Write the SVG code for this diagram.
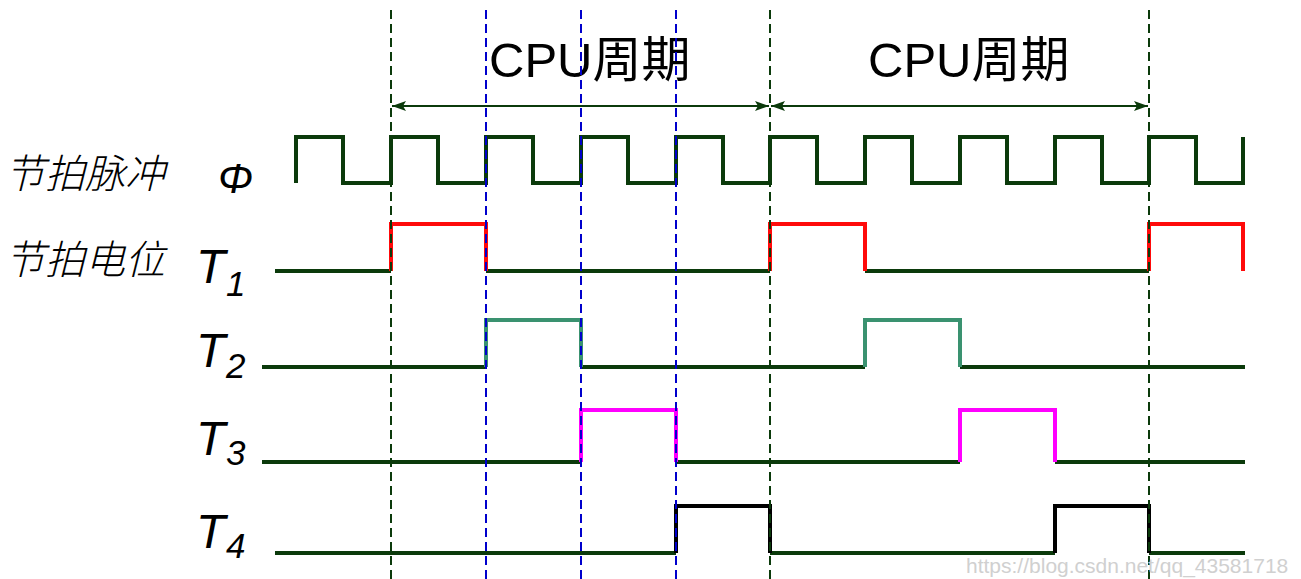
<svg xmlns="http://www.w3.org/2000/svg" width="1301" height="579" viewBox="0 0 1301 579">
<style>
.w{fill:none;stroke-width:4;stroke-linejoin:miter;stroke-linecap:butt}
.g{stroke:#0b3a0b}
.r{stroke:#ff0a0a}
.t{stroke:#3a9270}
.m{stroke:#ff00ff}
.k{stroke:#000}
.dg{stroke:#0b3a0b;stroke-width:2;stroke-dasharray:9,5;fill:none}
.db{stroke:#0000cc;stroke-width:2;stroke-dasharray:9,5;fill:none}
.cn{font-family:"Liberation Sans","Noto Sans CJK SC",sans-serif;font-size:49px;fill:#000}
.lb{font-family:"Noto Sans CJK SC",sans-serif;font-size:40px;font-style:italic;fill:#000;font-weight:300}
.T{font-family:"Liberation Sans",sans-serif;font-style:italic;font-size:48px;fill:#000}
.s{font-family:"Liberation Sans",sans-serif;font-style:italic;font-size:35px;fill:#000}
.wm{font-family:"Liberation Sans",sans-serif;font-size:21px;fill:#d0d0d0}
</style>
<defs>
<marker id="ah" viewBox="0 0 14 10" refX="14" refY="5" markerWidth="14" markerHeight="10" markerUnits="userSpaceOnUse" orient="auto-start-reverse">
<path d="M0,0 L14,5 L0,10 L3,5 Z" fill="#0b3a0b"/>
</marker>
</defs>
<g id="labels">
<text class="cn" x="489" y="77">CPU周期</text>
<text class="cn" x="868" y="77">CPU周期</text>
<text class="lb" x="5" y="188">节拍脉冲</text>
<text class="lb" x="5" y="274">节拍电位</text>
</g>
<g id="clock">
<text class="T" x="218" y="193" style="font-size:42px">Φ</text>
<path class="w g" d="M296,183 V137 H343 V183 H391 V137 H438 V183 H486 V137 H533 V183 H581 V137 H628 V183 H676 V137 H723 V183 H770 V137 H817 V183 H865 V137 H912 V183 H960 V137 H1007 V183 H1055 V137 H1102 V183 H1149 V137 H1196 V183 H1243 V137"/>
</g>
<g id="T1">
<text class="T" x="196" y="283">T</text><text class="s" x="226" y="296">1</text>
<path class="w g" d="M275,271 H391 M486,271 H770 M865,271 H1149"/>
<path class="w r" d="M391,271 V224 H486 V271 M770,271 V224 H865 V271 M1149,271 V224 H1243 V271"/>
</g>
<g id="T2">
<text class="T" x="196" y="367">T</text><text class="s" x="226" y="378">2</text>
<path class="w g" d="M262,367 H486 M581,367 H865 M960,367 H1245"/>
<path class="w t" d="M486,367 V320 H581 V367 M865,367 V320 H960 V367"/>
</g>
<g id="T3">
<text class="T" x="196" y="455">T</text><text class="s" x="226" y="465">3</text>
<path class="w g" d="M262,462 H581 M676,462 H960 M1055,462 H1245"/>
<path class="w m" d="M581,462 V410 H676 V462 M960,462 V410 H1055 V462"/>
</g>
<g id="T4">
<text class="T" x="196" y="548">T</text><text class="s" x="226" y="558">4</text>
<path class="w g" d="M275,553 H676 M770,553 H1055 M1149,553 H1245"/>
<path class="w k" d="M676,553 V506 H770 V553 M1055,553 V506 H1149 V553"/>
</g>
<g id="guides">
<line class="dg" x1="391" y1="10" x2="391" y2="579"/>
<line class="db" x1="486" y1="10" x2="486" y2="579"/>
<line class="db" x1="581" y1="10" x2="581" y2="579"/>
<line class="db" x1="676" y1="10" x2="676" y2="579"/>
<line class="dg" x1="770" y1="10" x2="770" y2="579"/>
<line class="dg" x1="1149" y1="10" x2="1149" y2="579"/>
</g>
<g id="connectors">
<line x1="392" y1="106" x2="769" y2="106" stroke="#0b3a0b" stroke-width="2" marker-start="url(#ah)" marker-end="url(#ah)"/>
<line x1="771" y1="106" x2="1148" y2="106" stroke="#0b3a0b" stroke-width="2" marker-start="url(#ah)" marker-end="url(#ah)"/>
</g>
<text class="wm" x="966" y="573">https://blog.csdn.net/qq_43581718</text>
</svg>
